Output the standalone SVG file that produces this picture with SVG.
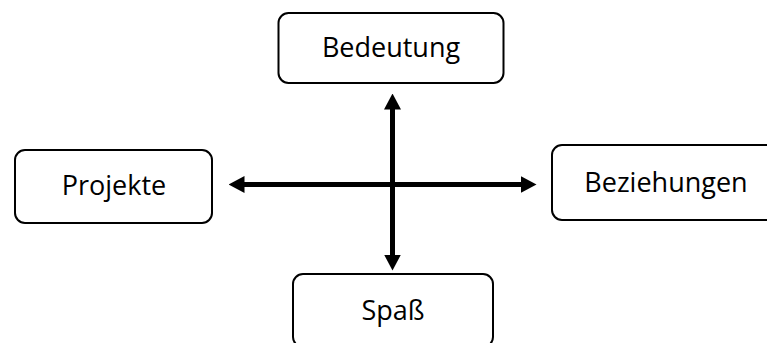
<svg xmlns="http://www.w3.org/2000/svg" width="767" height="343" viewBox="0 0 767 343">
  <style>
    .box { fill: #ffffff; stroke: #000000; stroke-width: 2; }
    .label { font-family: "Open Sans", "Noto Sans", sans-serif; font-size: 27px; fill: #000000; text-anchor: middle; }
    .axis { stroke: #000000; stroke-width: 5; fill: none; }
  </style>
  <defs>
    <marker id="head" viewBox="0 0 16 17" refX="1" refY="8.5" markerWidth="16" markerHeight="17" markerUnits="userSpaceOnUse" orient="auto-start-reverse">
      <path d="M0,0 L16,8.5 L0,17 Z" fill="#000000"/>
    </marker>
  </defs>
  <rect width="767" height="343" fill="#ffffff"/>

  <g id="connectors">
    <line class="axis" x1="243.5" y1="184.5" x2="521.5" y2="184.5" marker-start="url(#head)" marker-end="url(#head)"/>
    <line class="axis" x1="392.5" y1="108.5" x2="392.5" y2="255.5" marker-start="url(#head)" marker-end="url(#head)"/>
  </g>

  <g id="bedeutung">
    <rect class="box" x="278.5" y="13" width="225" height="70" rx="10"/>
    <text class="label" x="391" y="57">Bedeutung</text>
  </g>

  <g id="projekte">
    <rect class="box" x="15" y="150" width="197" height="73" rx="10"/>
    <text class="label" x="114" y="195">Projekte</text>
  </g>

  <g id="beziehungen">
    <rect class="box" x="552" y="145" width="228" height="75" rx="10"/>
    <text class="label" x="666" y="192">Beziehungen</text>
  </g>

  <g id="spass">
    <rect class="box" x="293" y="274" width="200" height="73" rx="10"/>
    <text class="label" x="393" y="320">Spaß</text>
  </g>
</svg>
